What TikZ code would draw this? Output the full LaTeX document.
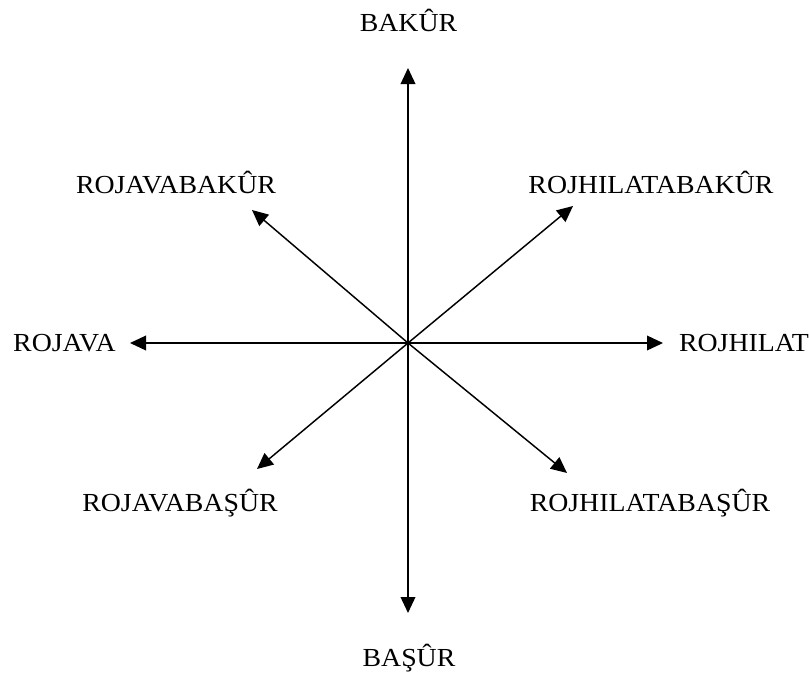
\documentclass[tikz,border=0pt]{standalone}
\usepackage{fontspec}
\setmainfont[FakeStretch=1.07]{Liberation Serif}
\usetikzlibrary{arrows.meta}
\begin{document}
\begin{tikzpicture}[x=0.75pt,y=-0.75pt,
  dir/.style={draw=black,line width=1.1pt,-{Triangle[length=12pt,width=11pt]}},
  lbl/.style={font=\fontsize{19.5}{21}\selectfont,inner sep=0pt,anchor=base}]
\useasboundingbox (0,0) rectangle (809,679);
\coordinate (O) at (408,343);
\coordinate (N) at (408,68);
\coordinate (S) at (408,613);
\coordinate (W) at (130,343);
\coordinate (E) at (663,343);
\coordinate (NE) at (573,206);
\coordinate (NW) at (252,210);
\coordinate (SW) at (257,469);
\coordinate (SE) at (567,473);
\foreach \p in {N,S,W,E,NE,NW,SW,SE} \draw[dir] (O) -- (\p);
\node[lbl] (tN) at (408.5,31) {BAKÛR};
\node[lbl] (tS) at (409,666) {BAŞÛR};
\node[lbl] (tW) at (64.5,351) {ROJAVA};
\node[lbl] (tE) at (744,351) {ROJHILAT};
\node[lbl] (tNW) at (176,193) {ROJAVABAKÛR};
\node[lbl] (tNE) at (651,193) {ROJHILATABAKÛR};
\node[lbl] (tSW) at (180,511) {ROJAVABAŞÛR};
\node[lbl] (tSE) at (650,511) {ROJHILATABAŞÛR};
\end{tikzpicture}
\end{document}
